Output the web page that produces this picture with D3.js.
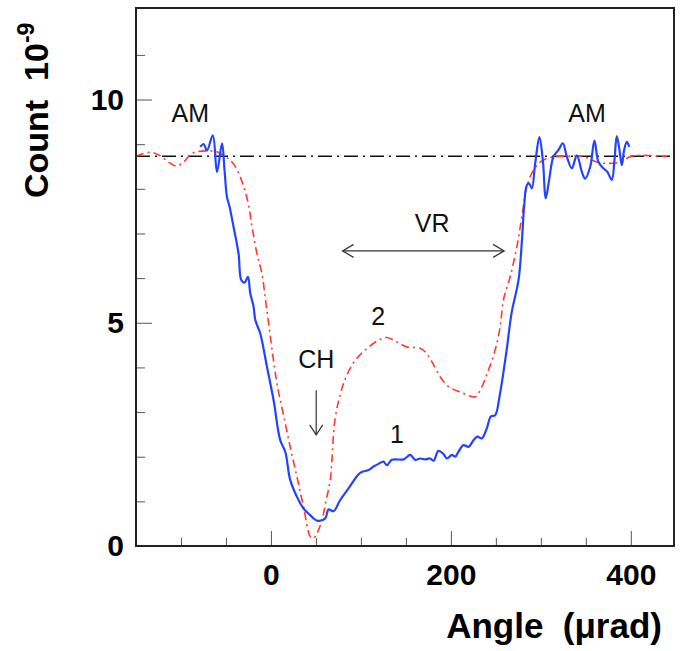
<!DOCTYPE html>
<html><head><meta charset="utf-8">
<script src="https://cdn.jsdelivr.net/npm/d3@7"></script>
<style>
body{margin:0;background:#fff;}
text{font-family:"Liberation Sans",Arial,Helvetica,sans-serif;}
</style></head>
<body><svg id="c" width="680" height="651"></svg>
<script>
// Curve 1 (blue, solid)
const angle1 = [-78.6,-74.8,-71.1,-64.6,-60,-54.4,-51.6,-48.9,-46,-41.6,-36,-33,-29.3,-25.6,-23,-19.3,-17.4,-11.9,-4.4,2.9,10.3,15.9,21.4,28.9,36.2,43.7,51.1,60.3,64,69.6,77,86.2,99.2,108.4,114,119.6,125.1,128.9,134.4,147.4,154.8,160.3,165.9,171.4,177,180.7,186.2,191.8,195.6,201.1,204.8,208.4,214,219.6,225.1,229.6,234.4,240,244.4,249.2,254,262,267.4,275.2,279,281.4,284.4,287,290,293.7,298.4,302.2,305.5,309.2,314,319.6,324.4,328.9,334.4,340,345.6,349.2,354.8,359.6,364,369.6,374,378.9,381.8,384.4,387.4,390,392.6,395.6,398.4];
const count1 = [8.94,9.0,8.86,9.2,8.38,9.02,8.42,7.82,7.6,7.15,6.55,5.96,5.9,6.03,5.66,5.36,5.06,4.76,4.01,3.27,2.37,2.11,1.48,1.10,0.84,0.69,0.57,0.62,0.82,0.78,1.03,1.29,1.64,1.70,1.78,1.84,1.89,1.81,1.93,1.94,2.04,1.93,1.96,1.94,1.96,1.91,2.13,2.06,1.96,2.04,2.0,2.11,2.26,2.22,2.37,2.45,2.41,2.64,2.9,2.93,3.34,4.39,5.21,5.96,6.85,7.6,8.08,8.12,8.01,8.57,9.16,8.64,7.79,8.2,8.72,8.87,9.02,8.72,8.46,8.75,8.38,8.23,8.49,9.08,8.6,8.46,8.38,8.2,8.64,9.18,8.87,8.53,8.87,9.05,8.94];
// Curve 2 (red, dash-dot)
const angle2 = [-150,-134,-124,-113.8,-105.2,-97,-88.9,-82.2,-71,-60,-50.8,-45,-37,-26.7,-21,-15.6,-10,-6,-3,6.7,14,21.4,28.9,36.2,43.7,47,51.1,56.7,61.4,65.9,71.4,78.9,84.4,93.7,104.8,119.6,128.9,140,151.1,165.9,171.4,178.8,188.1,197.3,210.3,227,232.6,241.8,249.2,254.8,258.4,265.9,273.3,278.9,284.4,291.8,299.2,310.3,328.9,347.4,362.2,373.3,388.1,399.2,414,428.9,440];
const count2 = [8.73,8.82,8.75,8.6,8.51,8.6,8.78,8.83,8.85,8.83,8.72,8.64,8.4,7.8,7.15,6.55,6.1,5.5,5.05,3.64,2.93,2.22,1.55,0.88,0.21,0.17,0.28,0.58,1.03,1.48,2.86,3.53,3.83,4.16,4.39,4.61,4.67,4.57,4.46,4.43,4.35,4.13,3.79,3.57,3.45,3.34,3.49,3.94,4.39,4.91,5.51,6.03,6.7,7.37,8.05,8.42,8.6,8.7,8.73,8.72,8.6,8.57,8.6,8.72,8.75,8.73,8.73];
const amLevel = [8.73];
const xMajorTicks = [0,200,400];
const xMinorTicks = [-100,-50,50,100,150,250,300,350];
const yMajorTicks = [0,5,10];
const yMinorTicks = [1,2,3,4,6,7,8,9,11];
const labels = [
  {t:"AM", x:-89.7, y:9.5},
  {t:"AM", x:351.4, y:9.5},
  {t:"VR", x:179.2, y:7.03},
  {t:"2", x:119.2, y:4.95},
  {t:"CH", x:50.3, y:3.99},
  {t:"1", x:140, y:2.31}
];
const vrArrow = [79.6, 259.2, 6.61];
const chArrow = [50.3, 3.49, 2.49];

const svg = d3.select("#c");
const x = d3.scaleLinear().domain([-150,448]).range([136,674]);
const y = d3.scaleLinear().domain([0,12.05]).range([546,8]);

// minor ticks
svg.append("g").attr("transform","translate(0,546)")
  .call(d3.axisBottom(x).tickValues(xMinorTicks).tickSize(-8).tickFormat(""))
  .call(g=>g.select(".domain").remove())
  .call(g=>g.selectAll("line").attr("stroke","#555"));
svg.append("g").attr("transform","translate(136,0)")
  .call(d3.axisLeft(y).tickValues(yMinorTicks).tickSize(-9).tickFormat(""))
  .call(g=>g.select(".domain").remove())
  .call(g=>g.selectAll("line").attr("stroke","#555"));
// major ticks
svg.append("g").attr("transform","translate(0,546)")
  .call(d3.axisBottom(x).tickValues(xMajorTicks).tickSize(-15).tickPadding(18).tickFormat(d3.format("d")))
  .call(g=>g.select(".domain").remove())
  .call(g=>g.selectAll("line").attr("stroke","#555"))
  .call(g=>g.selectAll("text").attr("font-size",30).attr("font-weight","bold").attr("fill","#000")
    .attr("font-family","'Liberation Sans',Arial,sans-serif"));
svg.append("g").attr("transform","translate(136,0)")
  .call(d3.axisLeft(y).tickValues(yMajorTicks).tickSize(-16).tickPadding(12).tickFormat(d3.format("d")))
  .call(g=>g.select(".domain").remove())
  .call(g=>g.selectAll("line").attr("stroke","#555"))
  .call(g=>g.selectAll("text").attr("font-size",30).attr("font-weight","bold").attr("fill","#000")
    .attr("font-family","'Liberation Sans',Arial,sans-serif"));

// reference level line
svg.append("line").attr("x1",x(-150)).attr("x2",x(448)).attr("y1",y(amLevel[0])).attr("y2",y(amLevel[0]))
  .attr("stroke","#111").attr("stroke-width",1.3).attr("stroke-dasharray","14,5,2,5");

const pts1 = angle1.map((a,i)=>[a,count1[i]]);
const pts2 = angle2.map((a,i)=>[a,count2[i]]);
const line = d3.line().x(d=>x(d[0])).y(d=>y(d[1])).curve(d3.curveCatmullRom.alpha(0.5));
svg.append("path").attr("d",line(pts2)).attr("fill","none").attr("stroke","#ff3a2a")
  .attr("stroke-width",1.6).attr("stroke-dasharray","8,4,2,4");
svg.append("path").attr("d",line(pts1)).attr("fill","none").attr("stroke","#2343ff")
  .attr("stroke-width",2.2);

// frame
svg.append("rect").attr("x",x(-150)).attr("y",y(12.05)).attr("width",x(448)-x(-150)).attr("height",y(0)-y(12.05))
  .attr("fill","none").attr("stroke","#222").attr("stroke-width",2);

// annotations
svg.selectAll("text.ann").data(labels).enter().append("text").attr("class","ann")
  .attr("x",d=>x(d.x)).attr("y",d=>y(d.y)).attr("text-anchor","middle")
  .attr("font-size",25).attr("fill","#111").text(d=>d.t);

const ar = svg.append("g").attr("stroke","#333").attr("stroke-width",1.2).attr("fill","none");
const ay = y(vrArrow[2]), ax1 = x(vrArrow[0]), ax2 = x(vrArrow[1]);
ar.append("line").attr("x1",ax1).attr("x2",ax2).attr("y1",ay).attr("y2",ay);
ar.append("path").attr("d",`M${ax1+11},${ay-6.5}L${ax1},${ay}L${ax1+11},${ay+6.5}`);
ar.append("path").attr("d",`M${ax2-11},${ay-6.5}L${ax2},${ay}L${ax2-11},${ay+6.5}`);
const cx = x(chArrow[0]), cy1 = y(chArrow[1]), cy2 = y(chArrow[2]);
ar.append("line").attr("x1",cx).attr("x2",cx).attr("y1",cy1).attr("y2",cy2);
ar.append("path").attr("d",`M${cx-6.5},${cy2-10}L${cx},${cy2}L${cx+6.5},${cy2-10}`);

// axis titles
svg.append("text").attr("x",662).attr("y",638).attr("text-anchor","end")
  .attr("font-size",35).attr("font-weight","bold").style("white-space","pre").text("Angle  (\u03bcrad)");
const yt = svg.append("text").attr("transform","translate(48,198) rotate(-90)")
  .attr("font-size",34).attr("font-weight","bold").style("white-space","pre");
yt.append("tspan").text("Count  10");
yt.append("tspan").attr("dy",-14).attr("font-size",23).text("-9");
</script></body></html>
